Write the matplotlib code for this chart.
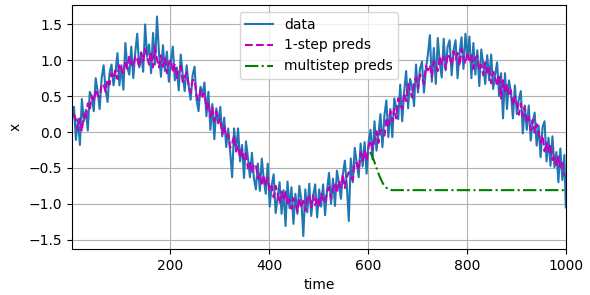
import numpy as np
import matplotlib
matplotlib.use("Agg")
import matplotlib.pyplot as plt

# observed series, every 4th step plus the last one
time_data = np.append(np.arange(1, 1000, 4), 1000)
x_data = [
    0.16, 0.35, -0.11, 0.18, -0.18, 0.46, 0.15, 0.31, 0.02, 0.56,
    0.50, 0.29, 0.75, 0.56, 0.32, 0.75, 0.93, 0.59, 0.42, 0.82,
    0.94, 0.65, 0.83, 1.10, 0.65, 0.93, 0.59, 1.24, 0.90, 0.80,
    1.19, 0.75, 1.11, 1.37, 0.90, 1.09, 0.84, 1.50, 1.05, 1.22,
    0.82, 1.38, 0.94, 1.61, 1.10, 0.77, 1.21, 0.85, 1.12, 0.70,
    0.99, 1.19, 0.72, 0.90, 0.58, 1.08, 0.80, 0.57, 0.93, 0.65,
    0.45, 0.79, 0.91, 0.45, 0.29, 0.63, 0.52, 0.69, 0.22, 0.56,
    0.03, 0.39, -0.10, 0.33, 0.12, 0.35, -0.06, 0.20, -0.21, 0.05,
    -0.27, -0.63, 0.05, -0.27, 0.05, -0.41, -0.18, -0.64, -0.13, -0.36,
    -0.63, -0.29, -0.64, -0.80, -0.44, -0.82, -0.37, -0.66, -0.86, -0.44,
    -1.04, -0.74, -0.59, -1.13, -0.91, -0.70, -1.14, -0.81, -1.31, -0.69,
    -1.06, -0.77, -1.28, -0.86, -1.14, -0.75, -0.95, -1.45, -0.80, -1.12,
    -0.72, -1.17, -0.88, -0.73, -1.19, -0.80, -1.04, -0.73, -1.16, -0.81,
    -0.57, -1.00, -0.65, -1.03, -0.54, -0.71, -0.93, -0.59, -0.40, -0.75,
    -1.24, -0.37, -0.70, -0.22, -0.43, -0.63, -0.16, -0.48, -0.14, -0.58,
    -0.14, 0.03, -0.38, 0.15, -0.26, -0.02, 0.25, -0.21, 0.23, 0.44,
    -0.07, 0.32, -0.07, 0.47, 0.34, 0.18, 0.66, 0.15, 0.56, 0.85,
    0.33, 0.74, 0.63, 0.36, 0.94, 0.55, 0.88, 0.98, 0.55, 0.88,
    1.08, 1.35, 0.70, 1.17, 0.67, 1.31, 0.97, 0.76, 1.30, 0.86,
    1.19, 1.28, 0.79, 1.14, 1.28, 0.75, 1.10, 1.32, 0.88, 1.37,
    1.04, 1.33, 0.75, 1.24, 0.80, 1.14, 0.64, 1.15, 0.94, 0.67,
    1.07, 0.72, 1.08, 0.60, 0.80, 0.97, 0.50, 0.82, 0.19, 0.82,
    0.32, 0.72, 0.55, 0.19, 0.65, 0.25, 0.46, 0.57, -0.02, 0.37,
    0.03, 0.37, -0.12, 0.14, 0.27, -0.19, 0.09, -0.35, 0.07, 0.15,
    -0.41, -0.08, -0.47, -0.06, -0.49, -0.28, -0.70, -0.23, -0.67, -0.32,
    -1.05,
]

# one-step-ahead predictions
time_onestep = np.arange(5, 1000, 4)
x_onestep = [
    0.25, 0.17, 0.03, 0.19, 0.01, 0.25, 0.17, 0.40, 0.31, 0.50,
    0.42, 0.59, 0.51, 0.49, 0.67, 0.66, 0.56, 0.73, 0.66, 0.82,
    0.75, 0.86, 0.74, 0.95, 0.88, 0.82, 0.99, 0.88, 1.06, 0.96,
    0.91, 1.06, 1.02, 0.90, 1.11, 0.99, 1.16, 1.04, 0.94, 1.12,
    0.90, 1.19, 1.01, 0.90, 1.07, 0.91, 1.03, 0.82, 0.96, 1.01,
    0.83, 0.95, 0.75, 0.88, 0.92, 0.70, 0.77, 0.83, 0.65, 0.55,
    0.72, 0.73, 0.51, 0.44, 0.59, 0.49, 0.54, 0.32, 0.42, 0.21,
    0.34, 0.15, 0.29, 0.13, 0.19, -0.03, 0.09, -0.07, -0.03, -0.22,
    -0.16, -0.05, -0.27, -0.19, -0.36, -0.24, -0.38, -0.30, -0.51, -0.43,
    -0.57, -0.46, -0.45, -0.65, -0.58, -0.75, -0.60, -0.75, -0.64, -0.82,
    -0.75, -0.91, -0.75, -0.86, -1.00, -0.83, -0.95, -0.83, -1.02, -0.94,
    -1.07, -0.92, -0.96, -1.11, -0.92, -1.06, -0.96, -1.10, -0.92, -0.88,
    -1.05, -0.88, -1.02, -0.91, -1.05, -0.86, -0.93, -0.99, -0.83, -0.77,
    -0.93, -0.79, -0.71, -0.85, -0.68, -0.77, -0.59, -0.78, -0.63, -0.56,
    -0.63, -0.67, -0.42, -0.44, -0.53, -0.29, -0.40, -0.26, -0.40, -0.20,
    -0.12, -0.24, -0.11, 0.01, -0.15, 0.03, 0.01, -0.05, 0.17, 0.09,
    0.29, 0.15, 0.33, 0.19, 0.47, 0.38, 0.32, 0.54, 0.43, 0.67,
    0.58, 0.48, 0.69, 0.76, 0.61, 0.80, 0.75, 0.67, 0.92, 0.86,
    0.93, 0.77, 0.99, 0.93, 0.85, 1.06, 0.94, 1.05, 0.88, 1.09,
    1.04, 0.93, 1.13, 1.02, 1.10, 0.92, 1.16, 1.04, 0.95, 1.11,
    1.00, 1.07, 0.88, 1.03, 1.06, 0.86, 0.94, 0.79, 0.97, 0.83,
    0.90, 0.68, 0.84, 0.77, 0.64, 0.80, 0.47, 0.72, 0.54, 0.67,
    0.50, 0.58, 0.37, 0.49, 0.40, 0.24, 0.40, 0.22, 0.35, 0.13,
    0.21, 0.03, 0.17, -0.01, 0.11, -0.01, -0.15, -0.05, -0.27, -0.15,
    -0.29, -0.17, -0.39, -0.32, -0.48, -0.34, -0.49, -0.43, -0.62,
]

# multistep predictions (fed back on themselves after t=604)
time_multistep = [604, 608, 612, 616, 620, 624, 628, 632, 636, 640,
                  644, 648, 652, 660, 700, 800, 900, 1000]
x_multistep = [-0.28, -0.33, -0.40, -0.48, -0.56, -0.63, -0.69, -0.74, -0.77, -0.79,
               -0.80, -0.81, -0.81, -0.81, -0.81, -0.81, -0.81, -0.81]

fig = plt.figure(figsize=(5.9, 2.95), dpi=100)
ax = fig.add_axes([0.122, 0.156, 0.837, 0.827])

ax.plot(time_data, x_data, '-', color='#1f77b4', lw=1.5, label='data')
ax.plot(time_onestep, x_onestep, 'm--', lw=1.5, label='1-step preds')
ax.plot(time_multistep, x_multistep, 'g-.', lw=1.5, label='multistep preds')

ax.set_xlim(1, 1000)
ax.set_ylim(-1.63, 1.77)
ax.set_xticks([200, 400, 600, 800, 1000])
ax.set_yticks([-1.5, -1.0, -0.5, 0.0, 0.5, 1.0, 1.5])
ax.set_xlabel('time')
ax.set_ylabel('x')
ax.grid(True)
ax.legend(loc='upper center')

fig.savefig('out.png', dpi=100)
